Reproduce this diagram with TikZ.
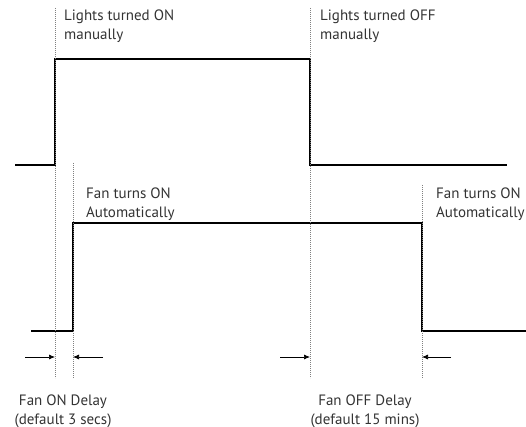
\documentclass[tikz,border=0pt]{standalone}
\usepackage{fontspec}
\setmainfont{PT Sans}
\usetikzlibrary{arrows.meta}
\definecolor{txt}{HTML}{333333}
\begin{document}
\begin{tikzpicture}[x=1pt,y=-1pt,
  signal/.style={line width=1.4pt,black},
  guide/.style={gray,line width=0.6pt,dash pattern=on 0.8pt off 1.2pt},
  delay/.style={line width=0.7pt,-{Latex[length=6pt,width=5pt]}},
  lbl/.style={inner sep=0pt,anchor=base west,text=txt,font=\fontsize{15}{19}\selectfont,align=left},
  clbl/.style={inner sep=0pt,anchor=base,text=txt,font=\fontsize{15}{19}\selectfont,align=center}]
\useasboundingbox (0,0) rectangle (526,427);
% light signal
\coordinate (l0) at (15,165);
\coordinate (l1) at (55,165);
\coordinate (l2) at (55,59);
\coordinate (l3) at (310,59);
\coordinate (l4) at (310,165);
\coordinate (l5) at (507,165);
\draw[signal] (l0) -- (l1) -- (l2) -- (l3) -- (l4) -- (l5);
% fan signal
\coordinate (f0) at (31,331);
\coordinate (f1) at (73,331);
\coordinate (f2) at (73,223);
\coordinate (f3) at (422,223);
\coordinate (f4) at (422,331);
\coordinate (f5) at (526,331);
\draw[signal] (f0) -- (f1) -- (f2) -- (f3) -- (f4) -- (f5);
% guides
\coordinate (g1t) at (55,8);   \coordinate (g1b) at (55,378);
\coordinate (g2t) at (73,163); \coordinate (g2b) at (73,378);
\coordinate (g3t) at (310,8);  \coordinate (g3b) at (310,378);
\coordinate (g4t) at (422,185); \coordinate (g4b) at (422,378);
\draw[guide] (g1t) -- (g1b);
\draw[guide] (g2t) -- (g2b);
\draw[guide] (g3t) -- (g3b);
\draw[guide] (g4t) -- (g4b);
% delay arrows
\coordinate (a1s) at (25,357);  \coordinate (a1e) at (55,357);
\coordinate (a2s) at (103,357); \coordinate (a2e) at (73,357);
\coordinate (a3s) at (280,357); \coordinate (a3e) at (310,357);
\coordinate (a4s) at (451,357); \coordinate (a4e) at (422,357);
\draw[delay] (a1s) -- (a1e);
\draw[delay] (a2s) -- (a2e);
\draw[delay] (a3s) -- (a3e);
\draw[delay] (a4s) -- (a4e);
% labels (anchored at the baseline of the last line)
\node[lbl] (t1) at (64,40) {Lights turned ON\\manually};
\node[lbl] (t2) at (320,40) {Lights turned OFF\\manually};
\node[lbl] (t3) at (86,218) {Fan turns ON\\Automatically};
\node[lbl] (t4) at (436,218) {Fan turns ON\\Automatically};
\node[clbl] (t5) at (63,424) {Fan ON Delay\\(default 3 secs)};
\node[clbl] (t6) at (365,424) {Fan OFF Delay\\(default 15 mins)};
\end{tikzpicture}
\end{document}
